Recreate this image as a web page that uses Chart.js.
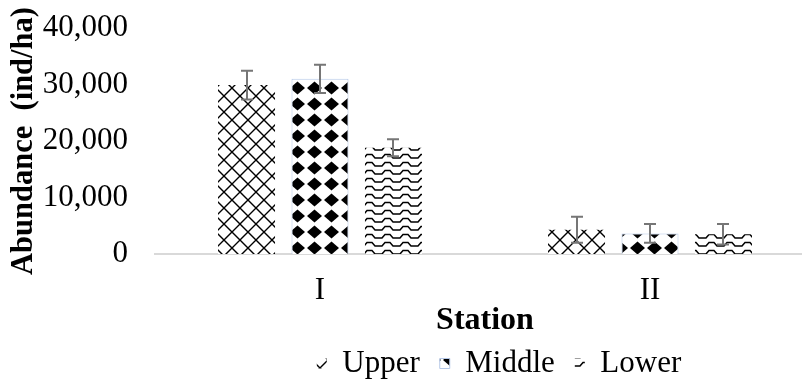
<!DOCTYPE html>
<html lang="en">
  <head>
    <meta charset="UTF-8" />
    <title>Abundance by station</title>
    <script src="https://cdn.jsdelivr.net/npm/chart.js"></script>
    <style>
      html, body { margin: 0; padding: 0; background: #fff; overflow: hidden; }
      body { width: 802px; height: 379px; }
      .wrap { position: relative; width: 817px; height: 379px; }
    </style>
  </head>
  <body>
    <div class="wrap">
      <canvas id="abundance"></canvas>
    </div>

    <script>
      // data
      const stations = ["I", "II"];
      const upper = [29900, 4300];
      const middle = [31000, 3650];
      const lower = [18800, 3500];
      const upperErr = [2550, 2300];
      const middleErr = [2500, 1650];
      const lowerErr = [1500, 1800];
      const yTicks = [0, 10000, 20000, 30000, 40000];

      const serif = "'Liberation Serif', 'Times New Roman', serif";
      const canvas = document.getElementById("abundance");
      const ctx = canvas.getContext("2d");

      // fill patterns like the Excel ones
      function makePattern(w, h, draw) {
        const c = document.createElement("canvas");
        c.width = w;
        c.height = h;
        const g = c.getContext("2d");
        g.fillStyle = "#fff";
        g.fillRect(0, 0, w, h);
        g.strokeStyle = "#000";
        g.fillStyle = "#000";
        draw(g);
        return ctx.createPattern(c, "repeat");
      }

      const latticeFill = makePattern(16, 16, (g) => {
        g.lineWidth = 1.4;
        g.beginPath();
        g.moveTo(-2, -2); g.lineTo(18, 18);
        g.moveTo(18, -2); g.lineTo(-2, 18);
        g.stroke();
      });

      const diamondFill = makePattern(17, 16, (g) => {
        g.beginPath();
        g.moveTo(8.5, 1.5);
        g.lineTo(16, 8);
        g.lineTo(8.5, 14.5);
        g.lineTo(1, 8);
        g.closePath();
        g.fill();
      });

      const waveFill = makePattern(18, 8, (g) => {
        g.lineWidth = 1.5;
        g.beginPath();
        g.moveTo(0, 6);
        g.lineTo(4, 6);
        g.lineTo(7, 2.5);
        g.lineTo(12, 2.5);
        g.lineTo(15, 6);
        g.lineTo(18, 6);
        g.stroke();
      });

      const errors = [upperErr, middleErr, lowerErr];

      // error bars drawn from the y scale
      const errorBars = {
        id: "errorBars",
        afterDatasetsDraw(chart) {
          const c = chart.ctx;
          const y = chart.scales.y;
          c.save();
          c.strokeStyle = "#767676";
          c.lineWidth = 2;
          chart.data.datasets.forEach((ds, i) => {
            const meta = chart.getDatasetMeta(i);
            meta.data.forEach((bar, j) => {
              const v = ds.data[j];
              const e = errors[i][j];
              const top = y.getPixelForValue(v + e);
              const bot = y.getPixelForValue(v - e);
              const x = Math.round(bar.x);
              c.beginPath();
              c.moveTo(x, top); c.lineTo(x, bot);
              c.moveTo(x - 6, top); c.lineTo(x + 6, top);
              c.moveTo(x - 6, bot); c.lineTo(x + 6, bot);
              c.stroke();
            });
          });
          c.restore();
        },
      };

      // legend sits a bit right of the plot centre in the original
      const legendShift = {
        id: "legendShift",
        afterLayout(chart) {
          chart.legend.left += 14;
          chart.legend.right += 14;
          chart.legend.top -= 12;
        },
      };

      new Chart(ctx, {
        type: "bar",
        data: {
          labels: stations,
          datasets: [
            {
              label: "Upper",
              data: upper,
              backgroundColor: latticeFill,
              borderWidth: 0,
            },
            {
              label: "Middle",
              data: middle,
              backgroundColor: diamondFill,
              borderColor: "#b4c7e7",
              borderWidth: 1,
            },
            {
              label: "Lower",
              data: lower,
              backgroundColor: waveFill,
              borderWidth: 0,
            },
          ],
        },
        options: {
          responsive: true,
          maintainAspectRatio: false,
          animation: false,
          categoryPercentage: 0.668,
          barPercentage: 0.776,
          layout: { padding: { top: 28, right: 2, bottom: 0, left: 6 } },
          plugins: {
            legend: {
              position: "bottom",
              fullSize: false,
              maxHeight: 39,
              labels: {
                font: { family: serif, size: 31 },
                color: "#000",
                boxWidth: 10,
                boxHeight: 10,
                padding: 20,
              },
            },
            tooltip: { enabled: false },
          },
          scales: {
            x: {
              afterFit: (axis) => {
                axis.height = 86;
              },
              grid: { display: false, drawTicks: false },
              border: { display: true, color: "#d9d9d9", width: 2 },
              ticks: {
                font: { family: serif, size: 31 },
                color: "#000",
                padding: 18,
              },
              title: {
                display: true,
                text: "Station",
                font: { family: serif, size: 32, weight: "bold" },
                color: "#000",
                padding: { top: 0, bottom: 0 },
              },
            },
            y: {
              min: 0,
              max: 40000,
              afterBuildTicks: (axis) => {
                axis.ticks = yTicks.map((v) => ({ value: v }));
              },
              afterFit: (axis) => {
                axis.width = 149;
                axis.paddingTop = 0;
                axis.paddingBottom = 0;
              },
              grid: { display: false, drawTicks: false },
              border: { display: false },
              ticks: {
                font: { family: serif, size: 31 },
                color: "#000",
                padding: 27,
                callback: (v) => v.toLocaleString("en-US"),
              },
              title: {
                display: true,
                text: "Abundance  (ind/ha)",
                font: { family: serif, size: 30.5, weight: "bold" },
                color: "#000",
                padding: { top: 0, bottom: 2 },
              },
            },
          },
        },
        plugins: [errorBars, legendShift],
      });
    </script>
  </body>
</html>
